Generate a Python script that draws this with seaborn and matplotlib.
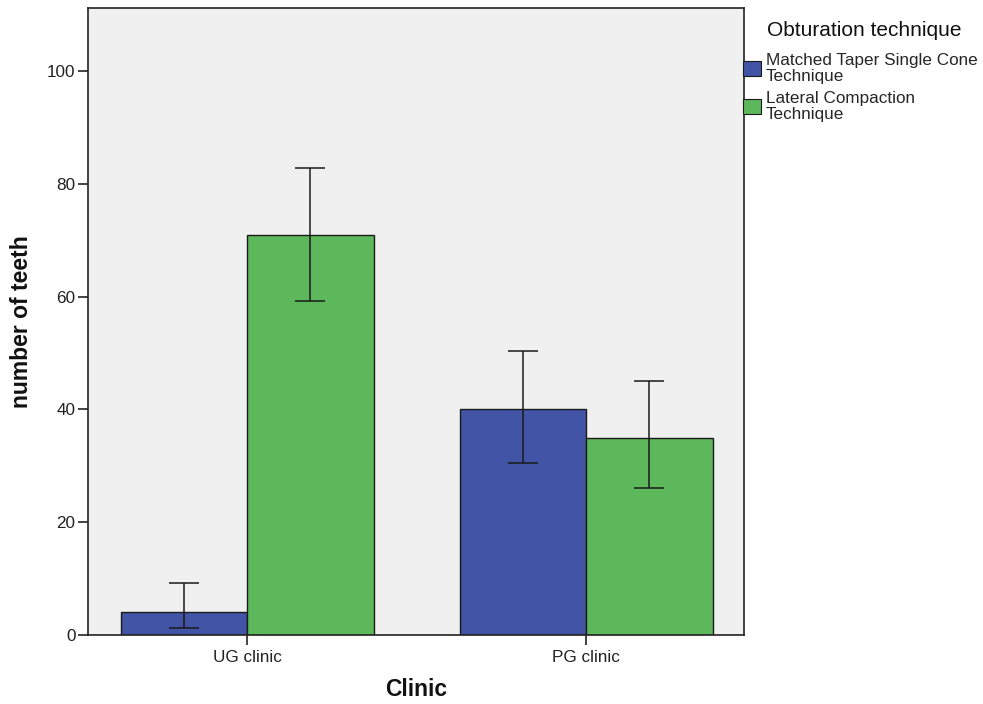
import matplotlib
matplotlib.use("Agg")
import matplotlib.pyplot as plt
import seaborn as sns
import pandas as pd
from matplotlib.patches import Patch

clinics = ["UG clinic", "PG clinic"]
techniques = ["Matched Taper Single Cone\nTechnique", "Lateral Compaction\nTechnique"]
matched_vals = [4, 40]
lateral_vals = [71, 35]
matched_lo = [1.3, 30.5]
matched_hi = [9.2, 50.3]
lateral_lo = [59.3, 26.0]
lateral_hi = [82.8, 45.0]
yticks = [0, 20, 40, 60, 80, 100]

colors = ["#4254A6", "#5DB75B"]

sns.set_theme(style="white")
plt.rcParams['font.family'] = ['Liberation Sans', 'DejaVu Sans']

df = pd.DataFrame({
    "Clinic": clinics * 2,
    "Technique": [techniques[0]] * 2 + [techniques[1]] * 2,
    "value": matched_vals + lateral_vals,
})

fig = plt.figure(figsize=(9.83, 7.04), dpi=100)
ax = fig.add_axes([88/983, 69/704, (744-88)/983, (635-8)/704])
ax.set_facecolor("#F0F0F0")

sns.barplot(data=df, x="Clinic", y="value", hue="Technique", order=clinics,
            hue_order=techniques, palette=colors, width=0.745, gap=0,
            errorbar=None, edgecolor="#1a1a1a", linewidth=1.0, ax=ax,
            legend=False, saturation=1)

los = {techniques[0]: matched_lo, techniques[1]: lateral_lo}
his = {techniques[0]: matched_hi, techniques[1]: lateral_hi}
for container, tech in zip(ax.containers, techniques):
    for i, bar in enumerate(container):
        xc = bar.get_x() + bar.get_width() / 2
        lo, hi = los[tech][i], his[tech][i]
        mid = (lo + hi) / 2
        ax.errorbar(xc, mid, yerr=[[mid - lo], [hi - mid]], fmt="none",
                    ecolor="#1a1a1a", elinewidth=1.1, capsize=11, capthick=1.1)

ax.set_xlim(-0.47, 1.465)
ax.set_ylim(0, 111.2)
ax.set_yticks(yticks)
ax.set_yticklabels([str(t) for t in yticks], fontsize=12.3, color="#222222")
ax.tick_params(axis="x", labelsize=12.3, colors="#222222", length=7, width=1.2, direction="out", bottom=True, pad=4)
ax.tick_params(axis="y", length=7, width=1.2, direction="out", left=True, colors="#222222", pad=2)
ax.set_xlabel("Clinic", fontsize=16.5, fontweight="bold", labelpad=9, color="#111111")
ax.set_ylabel("number of teeth", fontsize=16.5, fontweight="bold", labelpad=10, color="#111111")
for s in ax.spines.values():
    s.set_color("#222222")
    s.set_linewidth(1.2)

fig.text(767/983, 1 - 30/704, "Obturation technique", fontsize=15, va="center", ha="left", color="#111111")
handles = [Patch(facecolor=c, edgecolor="#1a1a1a", linewidth=0.8) for c in colors]
leg = fig.legend(handles, techniques, loc="upper left", bbox_to_anchor=(743/983, 1 - 53/704),
                 frameon=False, fontsize=12.3, borderaxespad=0, borderpad=0,
                 handlelength=1.05, handleheight=1.0, handletextpad=0.3, labelspacing=0.45)
for t in leg.get_texts():
    t.set_linespacing(1.05)

fig.savefig("out.png", dpi=100)
